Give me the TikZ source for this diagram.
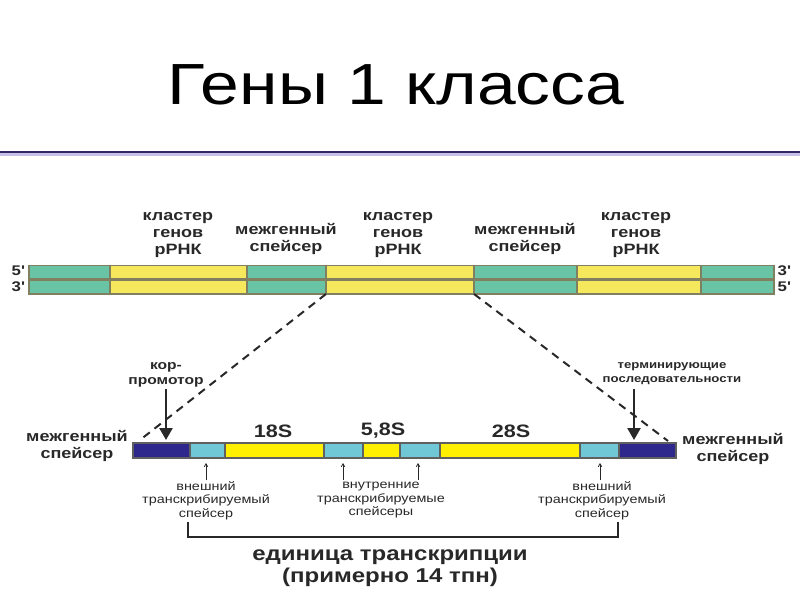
\documentclass[tikz,border=0pt]{standalone}
\usepackage{fontspec}
\setmainfont{Liberation Sans}[FakeStretch=1.2]
\usetikzlibrary{arrows.meta, positioning}
\definecolor{rulenavy}{RGB}{48, 40, 100}
\definecolor{rulelav}{RGB}{200, 192, 232}
\definecolor{dnateal}{RGB}{104, 196, 164}
\definecolor{dnayellow}{RGB}{246, 232, 92}
\definecolor{dnaedge}{RGB}{128, 128, 96}
\definecolor{unitnavy}{RGB}{46, 40, 140}
\definecolor{unitblue}{RGB}{112, 200, 214}
\definecolor{unityellow}{RGB}{255, 240, 0}
\definecolor{unitedge}{RGB}{96, 96, 96}
\definecolor{textdark}{RGB}{40, 40, 40}

\begin{document}
\begin{tikzpicture}[
    x=1pt, y=-1pt,
    title/.style={font=\fontsize{58}{62}\selectfont, text=black},
    toplabel/.style={align=center, font=\bfseries\fontsize{15}{17}\selectfont, text=textdark},
    endlabel/.style={font=\bfseries\fontsize{14}{16}\selectfont, text=textdark},
    rnalabel/.style={font=\bfseries\fontsize{18}{20}\selectfont, text=textdark},
    smalllabel/.style={align=center, font=\fontsize{12}{13.5}\selectfont, text=textdark},
    marklabel/.style={align=center, font=\bfseries\fontsize{13}{15}\selectfont, text=textdark},
    unitlabel/.style={align=center, font=\bfseries\fontsize{20}{22}\selectfont, text=textdark},
    bigarrow/.style={-{Triangle[length=12pt, width=13pt]}, line width=2.4pt, color=textdark},
    smallarrow/.style={-{Straight Barb[length=3pt, width=3.5pt]}, line width=0.8pt, color=textdark},
    zoomline/.style={dash pattern=on 8pt off 6pt, line width=2pt, color=textdark},
]
\useasboundingbox (0,0) rectangle (800,600);

% Title
\node[title] (title) at (396,85) {Гены 1 класса};
\fill[rulenavy] (0,150.5) rectangle (800,153);
\fill[rulelav] (0,153) rectangle (800,155.5);

% DNA double strand
\foreach \xa/\xb/\col in {29/110/dnateal, 110/247/dnayellow, 247/326/dnateal,
    326/474/dnayellow, 474/577/dnateal, 577/701/dnayellow, 701/774/dnateal} {
  \filldraw[fill=\col, draw=dnaedge, line width=1.5pt] (\xa,265.5) rectangle (\xb,279);
  \filldraw[fill=\col, draw=dnaedge, line width=1.5pt] (\xa,280.5) rectangle (\xb,294);
}
\coordinate (zoomleft) at (326,294);
\coordinate (zoomright) at (474,294);

\node[endlabel] (top5) at (18,271) {5\textquotesingle};
\node[endlabel] (top3) at (18,287) {3\textquotesingle};
\node[endlabel] (right3) at (784,271) {3\textquotesingle};
\node[endlabel] (right5) at (784,287) {5\textquotesingle};

% Labels above the strands
\node[toplabel] (cluster1) at (178,235) {кластер\\генов\\рРНК};
\node[toplabel] (spacer1) at (286,238.5) {межгенный\\спейсер};
\node[toplabel] (cluster2) at (398,235) {кластер\\генов\\рРНК};
\node[toplabel] (spacer2) at (525,238.5) {межгенный\\спейсер};
\node[toplabel] (cluster3) at (636,235) {кластер\\генов\\рРНК};

% Transcription unit
\foreach \xa/\xb/\col in {133/190/unitnavy, 190/225/unitblue, 225/324/unityellow,
    324/363/unitblue, 363/400/unityellow, 400/440/unitblue, 440/580/unityellow,
    580/619/unitblue, 619/676/unitnavy} {
  \filldraw[fill=\col, draw=unitedge, line width=1.2pt] (\xa,443) rectangle (\xb,458);
}
\coordinate (unitleft) at (140,440);
\coordinate (unitright) at (668,441);

\node[rnalabel] (r18) at (273,431) {18S};
\node[rnalabel] (r58) at (383,431) {5,8S};
\node[rnalabel] (r28) at (511,431) {28S};

\node[toplabel] (spacerleft) at (77,446) {межгенный\\спейсер};
\node[toplabel] (spacerright) at (733,449) {межгенный\\спейсер};

% Zoom lines
\draw[zoomline] (zoomleft) -- (unitleft);
\draw[zoomline] (zoomright) -- (unitright);

% Promoter and terminator
\node[marklabel] (promoter) at (166,374.5) {кор-\\промотор};
\node[marklabel, font=\bfseries\fontsize{11}{14}\selectfont] (terminator) at (672,374) {терминирующие\\последовательности};
\coordinate (promoterend) at (166,440);
\coordinate (terminatorend) at (634,440);
\draw[bigarrow] (166,389) -- (promoterend);
\draw[bigarrow] (634,389) -- (terminatorend);

% Transcribed spacers
\foreach \xs in {206, 343, 418, 600}
  \draw[smallarrow] (\xs,480) -- (\xs,463);
\node[smalllabel] (ets1) at (206,500.5) {внешний\\транскрибируемый\\спейсер};
\node[smalllabel] (its) at (381,500.5) {внутренние\\транскрибируемые\\спейсеры};
\node[smalllabel] (ets2) at (602,500.5) {внешний\\транскрибируемый\\спейсер};

% Transcription unit bracket
\draw[line width=1.6pt, color=textdark] (188,522) -- (188,537) -- (618,537) -- (618,522);
\node[unitlabel] (unit) at (390,568) {единица транскрипции\\(примерно 14 тпн)};

\end{tikzpicture}
\end{document}
